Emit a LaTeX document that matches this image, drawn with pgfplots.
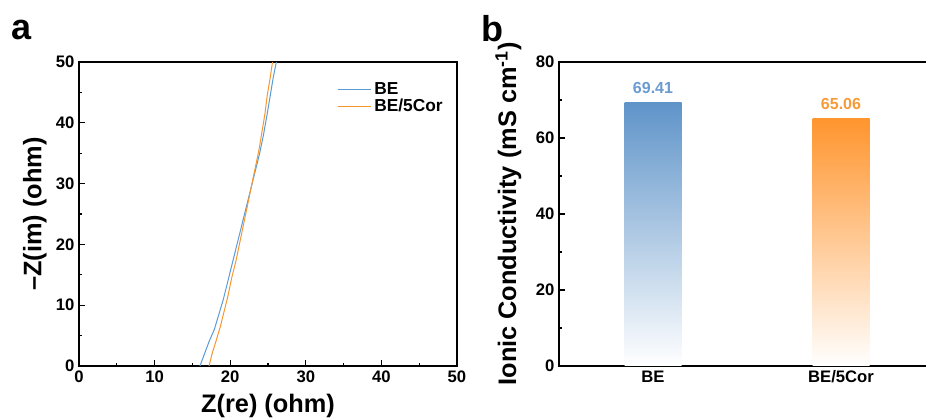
\documentclass[border=0pt]{standalone}
\usepackage{fontspec}
\setmainfont{Liberation Sans}
\usepackage{pgfplots}
\pgfplotsset{compat=1.18}
\definecolor{beblue}{HTML}{5B9BD5}
\definecolor{corange}{HTML}{F5962F}
\definecolor{barblue}{HTML}{5F94C9}
\definecolor{barorange}{HTML}{FF952E}
\definecolor{lblblue}{HTML}{6A9BD0}
\definecolor{lblorange}{HTML}{F79A38}
\begin{document}
\begin{tikzpicture}[x=0.75pt,y=0.75pt]
\useasboundingbox (0,0) rectangle (926,418);
\clip (0,0) rectangle (926,418);
\pgfplotsset{
 mystyle/.style={
  scale only axis,
  axis line style={line width=1pt},
  tick style={line width=0.8pt, black},
  tick align=inside,
  major tick length=4.5pt, minor tick length=2.5pt,
  tick label style={font=\fontsize{12.5}{14}\selectfont\bfseries},
  label style={font=\fontsize{19}{21}\selectfont\bfseries},
  /pgf/number format/assume math mode=true,
  xtick pos=bottom, ytick pos=left,
 }
}
\node[anchor=base west, font=\fontsize{27}{29}\selectfont\bfseries, inner sep=0pt] at (11,378) {a};
\node[anchor=base west, font=\fontsize{27}{29}\selectfont\bfseries, inner sep=0pt] at (481,376) {b};
\begin{axis}[mystyle, at={(59.25pt,39pt)}, anchor=south west,
  width=283.5pt, height=228pt,
  xmin=0, xmax=50, ymin=0, ymax=50,
  xtick={0,10,...,50}, ytick={0,10,...,50},
  minor xtick={5,15,...,45}, minor ytick={5,15,...,45},
  xlabel={Z(re) (ohm)}, ylabel={–Z(im) (ohm)},
  xlabel shift=1.5pt,
  legend style={draw=none, fill=none, at={(0.672,0.952)}, anchor=north west,
    font=\fontsize{13}{15}\selectfont\bfseries, row sep=-2pt},
  legend cell align=left,
  legend image code/.code={\path (0pt,-3pt); \draw[#1] (0pt,0pt) -- (25pt,0pt);},
]
\addplot[color=beblue, line width=0.75pt] coordinates {
(16.0,0) (16.6,2) (17.2,4) (17.9,6) (18.5,8.5) (19.1,11) (19.7,14) (20.3,17)
(20.9,20) (21.5,23) (22.1,26) (22.7,29) (23.3,32) (23.9,35) (24.4,38)
(24.9,41.5) (25.3,44.5) (25.7,47.5) (26.1,50)};
\addlegendentry{BE}
\addplot[color=corange, line width=0.75pt] coordinates {
(17.2,0) (17.6,2) (18.1,4) (18.7,6.5) (19.2,9) (19.7,11.5) (20.2,14.5)
(20.8,17.5) (21.3,20.5) (21.8,23.5) (22.3,26.5) (22.8,29.5) (23.3,32.5)
(23.8,35.5) (24.2,38.5) (24.6,41.5) (24.9,44.5) (25.3,47.5) (25.6,50)};
\addlegendentry{BE/5Cor}
\end{axis}
\begin{axis}[mystyle, at={(419.25pt,39pt)}, anchor=south west,
  width=282pt, height=228pt,
  xmin=-0.5, xmax=1.5, ymin=0, ymax=80,
  xtick={0,1}, xticklabels={BE, BE/5Cor},
  xtick style={draw=none},
  ytick={0,20,...,80}, minor ytick={10,30,50,70},
  ylabel={Ionic Conductivity (mS cm\textsuperscript{-1})},
  ylabel shift=4pt,
]
\addplot[ybar, bar width=42.75pt, bar shift=0pt, draw=none,
  top color=barblue, bottom color=white,
  nodes near coords, point meta=explicit symbolic,
  nodes near coords style={text=lblblue, font=\fontsize{12}{14}\selectfont\bfseries, yshift=3pt}]
  coordinates {(0,69.41) [69.41]};
\addplot[ybar, bar width=42.75pt, bar shift=0pt, draw=none,
  top color=barorange, bottom color=white,
  nodes near coords, point meta=explicit symbolic,
  nodes near coords style={text=lblorange, font=\fontsize{12}{14}\selectfont\bfseries, yshift=3pt}]
  coordinates {(1,65.06) [65.06]};
\end{axis}
\end{tikzpicture}
\end{document}
